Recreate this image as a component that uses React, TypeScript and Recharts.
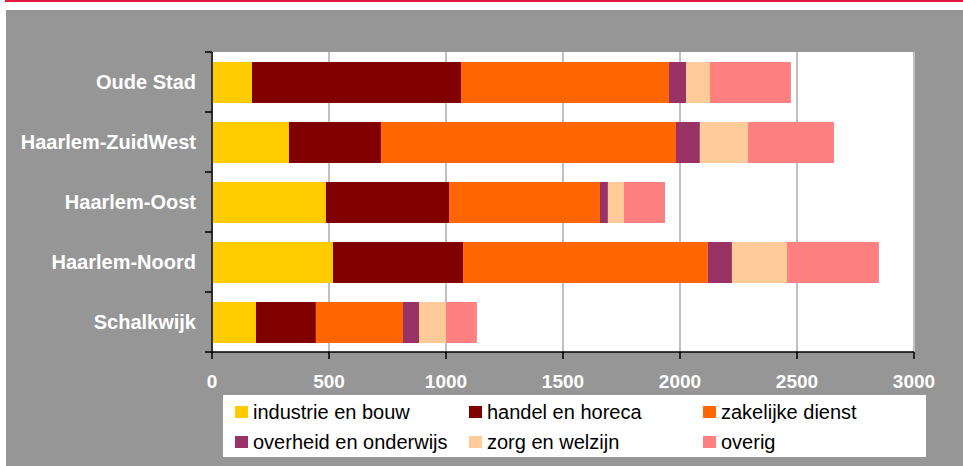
import { BarChart, Bar, XAxis, YAxis, CartesianGrid } from 'recharts';

const wijken = ['Oude Stad', 'Haarlem-ZuidWest', 'Haarlem-Oost', 'Haarlem-Noord', 'Schalkwijk'];

const industrie = [171, 329, 487, 517, 188];
const handel = [893, 393, 526, 556, 256];
const zakelijk = [889, 1261, 645, 1046, 372];
const overheid = [73, 102, 34, 103, 69];
const zorg = [102, 205, 68, 235, 115];
const overig = [346, 368, 176, 393, 132];

const xTicks = [0, 500, 1000, 1500, 2000, 2500, 3000];

const SERIES = [
  { key: 'industrie', name: 'industrie en bouw', color: '#FFCC00', values: industrie },
  { key: 'handel', name: 'handel en horeca', color: '#800000', values: handel },
  { key: 'zakelijk', name: 'zakelijke dienst', color: '#FF6600', values: zakelijk },
  { key: 'overheid', name: 'overheid en onderwijs', color: '#993366', values: overheid },
  { key: 'zorg', name: 'zorg en welzijn', color: '#FFCC99', values: zorg },
  { key: 'overig', name: 'overig', color: '#FF8080', values: overig },
];

const data = wijken.map((wijk, i) => {
  const row: Record<string, string | number> = { wijk };
  SERIES.forEach(s => {
    row[s.key] = s.values[i];
  });
  return row;
});

const FONT = '"Liberation Sans", Arial, sans-serif';
const Y_MARGIN = 16;
const BAND = 60;

function WijkTick(props: any) {
  const { x, y, payload, index } = props;
  const axisX = x + Y_MARGIN;
  return (
    <g>
      <line x1={axisX - 7} x2={axisX} y1={y - BAND / 2} y2={y - BAND / 2} stroke="#000" strokeWidth={1.5} />
      {index === wijken.length - 1 && (
        <line x1={axisX - 7} x2={axisX} y1={y + BAND / 2} y2={y + BAND / 2} stroke="#000" strokeWidth={1.5} />
      )}
      <text x={x} y={y} dy="0.35em" textAnchor="end" fill="#fff" fontWeight="bold" fontSize={20} fontFamily={FONT}>
        {payload.value}
      </text>
    </g>
  );
}

// legend drawn outside the chart so it doesn't eat plot height
function LegendBox() {
  const cols = [12, 246, 480];
  return (
    <div style={{ position: 'absolute', left: 223, top: 395, width: 703, height: 62, background: '#fff', fontFamily: FONT }}>
      {SERIES.map((s, i) => (
        <div
          key={s.key}
          style={{
            position: 'absolute',
            left: cols[i % 3],
            top: i < 3 ? 17 - 11 : 47 - 11,
            height: 22,
            display: 'flex',
            alignItems: 'center',
            fontSize: 20,
            color: '#000',
            whiteSpace: 'nowrap',
          }}
        >
          <span style={{ width: 13, height: 12, background: s.color, marginRight: 5, display: 'inline-block' }} />
          {s.name}
        </div>
      ))}
    </div>
  );
}

export default function App() {
  return (
    <div style={{ position: 'relative', width: 963, height: 466, background: '#fff' }}>
      <style>{'body{margin:0}'}</style>
      <div style={{ position: 'absolute', left: 5, top: 0, width: 958, height: 2, background: '#e4183c' }} />
      <div style={{ position: 'absolute', left: 6, top: 10, width: 957, height: 456, background: '#969696' }}>
        <BarChart
          width={957}
          height={456}
          data={data}
          layout="vertical"
          margin={{ top: 42, right: 49, bottom: 84, left: 6 }}
        >
          <CartesianGrid horizontal={false} vertical stroke="#c0c0c0" strokeWidth={2} fill="#fff" />
          <XAxis
            type="number"
            domain={[0, 3000]}
            ticks={xTicks}
            interval={0}
            height={30}
            axisLine={{ stroke: '#000', strokeWidth: 1.5 }}
            tickLine={{ stroke: '#000', strokeWidth: 1.5 }}
            tickSize={7}
            tickMargin={16}
            tick={{ fill: '#fff', fontWeight: 'bold', fontSize: 19, fontFamily: FONT }}
          />
          <YAxis
            type="category"
            dataKey="wijk"
            width={200}
            axisLine={{ stroke: '#000', strokeWidth: 1.5 }}
            tickLine={false}
            tickSize={0}
            tickMargin={Y_MARGIN}
            interval={0}
            tick={<WijkTick />}
          />
          {SERIES.map(s => (
            <Bar key={s.key} dataKey={s.key} name={s.name} stackId="a" fill={s.color} barSize={41} isAnimationActive={false} />
          ))}
        </BarChart>
      </div>
      <LegendBox />
    </div>
  );
}
